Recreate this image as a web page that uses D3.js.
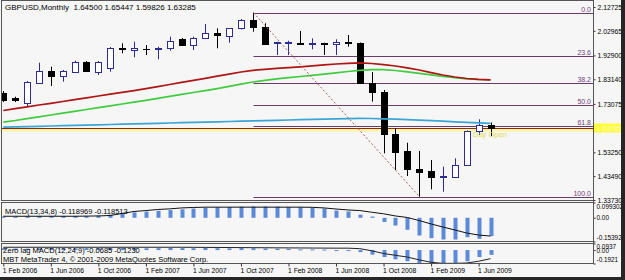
<!DOCTYPE html>
<html>
<head>
<meta charset="utf-8">
<script src="https://cdn.jsdelivr.net/npm/d3@7"></script>
<style>
    body { margin: 0; background: #fff; }
    svg { display: block; font-family: "Liberation Sans", Arial, sans-serif; }
</style>
</head>
<body>
<svg id="chart" width="625" height="280"></svg>
<script>
// monthly bars, Feb 2006 .. Jul 2009
const months = [
    '2006-02', '2006-03', '2006-04', '2006-05', '2006-06', '2006-07', '2006-08', '2006-09', '2006-10', '2006-11', '2006-12',
    '2007-01', '2007-02', '2007-03', '2007-04', '2007-05', '2007-06', '2007-07', '2007-08', '2007-09', '2007-10', '2007-11', '2007-12',
    '2008-01', '2008-02', '2008-03', '2008-04', '2008-05', '2008-06', '2008-07', '2008-08', '2008-09', '2008-10', '2008-11', '2008-12',
    '2009-01', '2009-02', '2009-03', '2009-04', '2009-05', '2009-06', '2009-07'
];
const open = [1.7752, 1.7548, 1.7343, 1.8174, 1.8665, 1.8448, 1.8624, 1.9009, 1.8624, 1.8763, 1.9594,
    1.9513, 1.9566, 1.9562, 1.9582, 1.9951, 1.9717, 1.9991, 2.0221, 2.0086, 2.0401, 2.0740, 2.0466,
    1.9799, 1.9799, 1.9799, 1.9774, 1.9799, 1.9758, 1.9828, 1.9787, 1.8174, 1.7806, 1.6062, 1.5379,
    1.4642, 1.4560, 1.4314, 1.4327, 1.4806, 1.6209, 1.64500];
const high = [1.7834, 1.7601, 1.8244, 1.8993, 1.8829, 1.8694, 1.9075, 1.9062, 1.9062, 1.9635, 1.9787,
    1.9852, 1.9717, 1.9647, 2.0057, 2.0004, 2.0057, 2.0577, 2.0401, 2.0413, 2.0781, 2.1039, 2.0606,
    1.9852, 1.9893, 2.0290, 1.9991, 1.9810, 1.9951, 2.0127, 1.9820, 1.8612, 1.7875, 1.6308, 1.5718,
    1.5379, 1.5010, 1.4736, 1.5080, 1.6218, 1.6676, 1.65447];
const low = [1.7384, 1.7384, 1.7220, 1.8162, 1.8039, 1.8215, 1.8592, 1.8612, 1.8489, 1.8625, 1.9378,
    1.9214, 1.9308, 1.9132, 1.9484, 1.9676, 1.9513, 1.9963, 1.9582, 1.9811, 2.0352, 2.0262, 1.9717,
    1.9308, 1.9308, 1.9717, 1.9541, 1.9308, 1.9308, 1.9647, 1.8162, 1.7397, 1.5284, 1.4601, 1.4355,
    1.3508, 1.3811, 1.3713, 1.4314, 1.4785, 1.6034, 1.59826];
const close = [1.7466, 1.7446, 1.8215, 1.8665, 1.8448, 1.8653, 1.9009, 1.8653, 1.9034, 1.9607, 1.9566,
    1.9607, 1.9541, 1.9590, 1.9893, 1.9717, 1.9991, 2.0221, 2.0127, 2.0401, 2.0740, 2.0466, 1.9746,
    1.9820, 1.9820, 1.9774, 1.9799, 1.9774, 1.9852, 1.9799, 1.8174, 1.7806, 1.6062, 1.5350, 1.4630,
    1.4507, 1.4327, 1.4343, 1.4806, 1.6197, 1.6443, 1.63285];

// moving averages on the price chart
const maRed = [1.7036, 1.7110, 1.7188, 1.7261, 1.7331, 1.7405, 1.7478, 1.7552, 1.7630, 1.7703, 1.7777,
    1.7851, 1.7929, 1.8015, 1.8100, 1.8186, 1.8268, 1.8354, 1.8440, 1.8526, 1.8612, 1.8682, 1.8723,
    1.8759, 1.8792, 1.8825, 1.8866, 1.8907, 1.8940, 1.8964, 1.8989, 1.8960, 1.8911, 1.8858, 1.8784,
    1.8694, 1.8588, 1.8489, 1.8407, 1.8346, 1.8309, 1.8293];
const maGreen = [1.6562, 1.6627, 1.6705, 1.6778, 1.6852, 1.6926, 1.6999, 1.7077, 1.7155, 1.7229, 1.7302,
    1.7376, 1.7450, 1.7532, 1.7613, 1.7695, 1.7773, 1.7851, 1.7933, 1.8023, 1.8113, 1.8203, 1.8272,
    1.8330, 1.8383, 1.8428, 1.8473, 1.8526, 1.8579, 1.8633, 1.8678, 1.8710, 1.8710, 1.8673, 1.8620,
    1.8559, 1.8497, 1.8436, 1.8379, 1.8334, 1.8305, 1.8289];
const maCyan = [1.6353, 1.6365, 1.6377, 1.6390, 1.6402, 1.6414, 1.6426, 1.6439, 1.6451, 1.6463, 1.6476,
    1.6488, 1.6500, 1.6512, 1.6525, 1.6537, 1.6549, 1.6562, 1.6574, 1.6586, 1.6598, 1.6611, 1.6623,
    1.6635, 1.6647, 1.6660, 1.6672, 1.6684, 1.6697, 1.6705, 1.6713, 1.6709, 1.6697, 1.6680, 1.6664,
    1.6643, 1.6623, 1.6598, 1.6574, 1.6549, 1.6529, 1.6512];

// MACD(13,34,8)
const macdHist = [0.008, 0.008, 0.010, 0.012, 0.012, 0.012, 0.012, 0.012, 0.014, 0.020, 0.030,
    0.035, 0.040, 0.045, 0.050, 0.055, 0.060, 0.065, 0.068, 0.070, 0.072, 0.073, 0.073,
    0.072, 0.070, 0.069, 0.065, 0.060, 0.047, 0.041, 0.020, 0.008, -0.027, -0.050, -0.078,
    -0.115, -0.132, -0.141, -0.141, -0.126, -0.136, -0.119];
const macdSignal = [0.010, 0.010, 0.010, 0.010, 0.010, 0.010, 0.010, 0.011, 0.012, 0.015, 0.028,
    0.041, 0.047, 0.054, 0.058, 0.064, 0.067, 0.069, 0.069, 0.069, 0.069, 0.069, 0.069,
    0.069, 0.069, 0.069, 0.068, 0.064, 0.057, 0.051, 0.047, 0.036, 0.026, 0.012, 0.002,
    -0.018, -0.040, -0.060, -0.079, -0.099, -0.112, -0.1185];

// Zero lag MACD(12,24,9)
const zlHist = [0.025, 0.022, 0.020, 0.024, 0.026, 0.022, 0.025, 0.028, 0.024, 0.026, 0.030,
    0.028, 0.025, 0.027, 0.030, 0.028, 0.026, 0.030, 0.026, 0.024, 0.028, 0.026, 0.022,
    0.020, 0.018, 0.010, 0.010, 0.008, -0.006, -0.006, -0.029, -0.066, -0.100, -0.132, -0.160,
    -0.190, -0.190, -0.190, -0.190, -0.160, -0.100, -0.0685];
const zlSignal = [0.040, 0.040, 0.040, 0.040, 0.040, 0.040, 0.040, 0.040, 0.040, 0.040, 0.040,
    0.040, 0.040, 0.040, 0.040, 0.040, 0.039, 0.038, 0.037, 0.036, 0.035, 0.034, 0.033,
    0.032, 0.031, 0.030, 0.029, 0.028, 0.027, 0.027, 0.020, -0.010, -0.050, -0.075, -0.100,
    -0.140, -0.175, -0.190, -0.190, -0.185, -0.160, -0.123];

const priceTicks = [2.12725, 2.02965, 1.92900, 1.83140, 1.73075, 1.53250, 1.43490, 1.33730];
const macdTicks = [0.099302, 0, -0.15392];
const zlTicks = [0.0937, 0, -0.1921];
const fibLevels = [0, 23.6, 38.2, 50, 61.8, 100];
const dayOpen = 1.6225;

const svg = d3.select('#chart');
const W = 625, H = 280;
const left = 2, right = 593;
const mainP = { top: 1, bottom: 201 };
const macdP = { top: 203, bottom: 242 };
const zlP = { top: 244, bottom: 264 };

const x = d3.scalePoint().domain(months).range([3.3, 490.5]);
const y = d3.scaleLinear().domain([1.33730, 2.12725]).range([200, 7]);
const yM = d3.scaleLinear().domain([-0.15392, 0.099302]).range([241.5, 202.5]);
const yZ = d3.scaleLinear().domain([-0.1921, 0.0937]).range([263.5, 243.5]);
const px = (m) => Math.round(x(m)) + 0.5;

svg.append('rect').attr('width', W).attr('height', H).attr('fill', '#f6f6f6');

// clip regions for each pane
const defs = svg.append('defs');
[['clipMain', mainP], ['clipMacd', macdP], ['clipZl', zlP]].forEach(([id, p]) => {
    defs.append('clipPath').attr('id', id)
        .append('rect').attr('x', left).attr('y', p.top).attr('width', right - left).attr('height', p.bottom - p.top);
});

const gMain = svg.append('g').attr('clip-path', 'url(#clipMain)');

// fibonacci retracement, from Nov 2007 high to Jan 2009 low
const hiIdx = 21, loIdx = 35;
const fibHi = high[hiIdx], fibLo = low[loIdx];
const fibX = px(months[hiIdx]);
const fibData = fibLevels.map((l) => ({ l, p: fibHi - (fibHi - fibLo) * l / 100 }));
gMain.selectAll('.fib').data(fibData).join('line')
    .attr('class', 'fib')
    .attr('x1', fibX).attr('x2', right)
    .attr('y1', (d) => Math.round(y(d.p)) + 0.5).attr('y2', (d) => Math.round(y(d.p)) + 0.5)
    .attr('stroke', '#6a3a6c').attr('stroke-width', 1);

// day open / bid lines
gMain.append('line')
    .attr('x1', left).attr('x2', right)
    .attr('y1', y(dayOpen)).attr('y2', y(dayOpen))
    .attr('stroke', '#fff4a0').attr('stroke-width', 2.5);
gMain.append('line')
    .attr('x1', left).attr('x2', right)
    .attr('y1', Math.round(y(close[41])) + 0.5).attr('y2', Math.round(y(close[41])) + 0.5)
    .attr('stroke', '#8a2a10').attr('stroke-width', 1);

// candles
const bars = months.map((m, i) => ({ m, o: open[i], h: high[i], l: low[i], c: close[i] }));
const candle = gMain.selectAll('.candle').data(bars).join('g').attr('class', 'candle');
const col = (d) => (d.c >= d.o ? '#2c2c96' : '#000');
candle.append('line')
    .attr('x1', (d) => px(d.m)).attr('x2', (d) => px(d.m))
    .attr('y1', (d) => y(d.h)).attr('y2', (d) => y(d.l))
    .attr('stroke', col);
candle.each(function (d) {
    const g = d3.select(this);
    const t = Math.round(y(Math.max(d.o, d.c)));
    const b = Math.round(y(Math.min(d.o, d.c)));
    const cx = px(d.m);
    if (b - t < 1) {
        g.append('line').attr('x1', cx - 3.5).attr('x2', cx + 3.5)
            .attr('y1', t + 0.5).attr('y2', t + 0.5).attr('stroke', col(d));
    } else {
        g.append('rect').attr('x', cx - 3).attr('y', t + 0.5)
            .attr('width', 6).attr('height', b - t)
            .attr('fill', d.c >= d.o ? '#fff' : '#000')
            .attr('stroke', col(d));
    }
});

// moving averages
const maLine = d3.line().x((d, i) => x(months[i])).y((d) => y(d));
[[maCyan, '#3aa6d6'], [maGreen, '#3fcc3f'], [maRed, '#b01414']].forEach(([data, c]) => {
    gMain.append('path').datum(data).attr('d', maLine)
        .attr('fill', 'none').attr('stroke', c).attr('stroke-width', 1.7);
});

// trend line high -> low
gMain.append('line')
    .attr('x1', fibX).attr('y1', y(fibHi))
    .attr('x2', px(months[loIdx])).attr('y2', y(fibLo))
    .attr('stroke', '#b45a5a').attr('stroke-dasharray', '2,2');

// fib labels
gMain.selectAll('.fibt').data(fibData).join('text')
    .attr('class', 'fibt')
    .attr('x', right - 2).attr('y', (d) => Math.round(y(d.p)) - 1.5)
    .attr('text-anchor', 'end').attr('font-size', 7).attr('fill', '#6e3f7a')
    .text((d) => d.l.toFixed(1));

gMain.append('text').attr('x', 473).attr('y', 137)
    .attr('font-size', 7.5).attr('fill', '#e2dc50').text('Day Open');

// MACD pane
const gMacd = svg.append('g').attr('clip-path', 'url(#clipMacd)');
gMacd.selectAll('rect').data(macdHist).join('rect')
    .attr('x', (d, i) => Math.round(x(months[i])) - 1.5)
    .attr('width', 4)
    .attr('y', (d) => Math.min(yM(d), yM(0)))
    .attr('height', (d) => Math.max(1, Math.abs(yM(d) - yM(0))))
    .attr('fill', '#5a8ad8');
gMacd.append('path').datum(macdSignal)
    .attr('d', d3.line().x((d, i) => x(months[i])).y((d) => yM(d)))
    .attr('fill', 'none').attr('stroke', '#111').attr('stroke-width', 1);

// Zero lag MACD pane
const gZl = svg.append('g').attr('clip-path', 'url(#clipZl)');
gZl.selectAll('rect').data(zlHist).join('rect')
    .attr('x', (d, i) => Math.round(x(months[i])) - 1.5)
    .attr('width', 4)
    .attr('y', (d) => Math.min(yZ(d), yZ(0)))
    .attr('height', (d) => Math.max(1, Math.abs(yZ(d) - yZ(0))))
    .attr('fill', '#5a8ad8');
gZl.append('path').datum(zlSignal)
    .attr('d', d3.line().x((d, i) => x(months[i])).y((d) => yZ(d)))
    .attr('fill', 'none').attr('stroke', '#222').attr('stroke-width', 1);

// pane frames
[mainP, macdP, zlP].forEach((p) => {
    svg.append('rect')
        .attr('x', left - 0.5).attr('y', p.top - 0.5)
        .attr('width', right - left + 1).attr('height', p.bottom - p.top)
        .attr('fill', 'none').attr('stroke', '#555');
});

// legends
svg.append('text').attr('x', 5).attr('y', 10).attr('font-size', 8).attr('fill', '#000')
    .attr('xml:space', 'preserve')
    .text('GBPUSD,Monthly  1.64500 1.65447 1.59826 1.63285');
svg.append('text').attr('x', 5).attr('y', 213.5).attr('font-size', 7.5).attr('fill', '#000')
    .text('MACD(13,34,8) -0.118969 -0.118513');
svg.append('text').attr('x', 3).attr('y', 252.5).attr('font-size', 7.5).attr('fill', '#000')
    .text('Zero lag MACD(12,24,9) -0.0685 -0.1230');
svg.append('text').attr('x', 3).attr('y', 261.5).attr('font-size', 7.5).attr('fill', '#000')
    .text('MBT MetaTrader 4, © 2001-2009 MetaQuotes Software Corp.');

// right price axis
const styleAxis = (size) => (g) => {
    g.select('.domain').remove();
    g.selectAll('line').attr('stroke', '#333');
    g.selectAll('text').attr('font-size', size).attr('fill', '#000').attr('font-family', '"Liberation Sans", Arial, sans-serif');
};
svg.append('g').attr('transform', `translate(${right + 0.5},0)`)
    .call(d3.axisRight(y).tickValues(priceTicks).tickSize(2).tickPadding(2).tickFormat(d3.format('.5f')))
    .call(styleAxis(6.8));

const subFmt = (d) => (d === 0 ? '0.00' : String(d));
svg.append('g').attr('transform', `translate(${right + 0.5},0)`)
    .call(d3.axisRight(yM).tickValues(macdTicks).tickSize(2).tickPadding(1).tickFormat(subFmt))
    .call(styleAxis(6.4))
    .selectAll('.tick text').attr('dy', (d, i) => (i === 0 ? '1em' : i === 2 ? '-0.3em' : '0.32em'));
svg.append('g').attr('transform', `translate(${right + 0.5},0)`)
    .call(d3.axisRight(yZ).tickValues(zlTicks).tickSize(2).tickPadding(1).tickFormat(subFmt))
    .call(styleAxis(6.4))
    .selectAll('.tick text').attr('dy', (d, i) => (i === 0 ? '0.85em' : i === 2 ? '-0.25em' : '0.45em'));

// bid price tag
const bidY = Math.round(y(close[41]));
svg.append('rect').attr('x', right + 1).attr('y', bidY - 4.5).attr('width', 28).attr('height', 9).attr('fill', '#ffff33');
svg.append('text').attr('x', right + 3.5).attr('y', bidY + 2.6).attr('font-size', 6.8).attr('fill', '#fafad2')
    .text(d3.format('.5f')(close[41]));

svg.append('line').attr('x1', right + 0.5).attr('x2', right + 0.5).attr('y1', 0).attr('y2', zlP.bottom)
    .attr('stroke', '#555');

// time axis
const parse = d3.timeParse('%Y-%m');
const fmt = d3.timeFormat('%-d %b %Y');
const xAxis = svg.append('g').attr('transform', `translate(0,${zlP.bottom - 0.5})`)
    .call(d3.axisBottom(x).tickValues(months.filter((d, i) => i % 4 === 0)).tickSize(3).tickPadding(2)
        .tickFormat((d) => fmt(parse(d))));
xAxis.select('.domain').remove();
xAxis.selectAll('line').attr('stroke', '#333');
xAxis.selectAll('text').attr('font-size', 6.8).attr('text-anchor', 'start').attr('x', -1)
    .attr('fill', '#000').attr('font-family', '"Liberation Sans", Arial, sans-serif');

// window frame
svg.append('rect').attr('x', 621).attr('y', 0).attr('width', 4).attr('height', H).attr('fill', '#262626');
svg.append('rect').attr('x', 0).attr('y', 277).attr('width', W).attr('height', 3).attr('fill', '#262626');
</script>
</body>
</html>
